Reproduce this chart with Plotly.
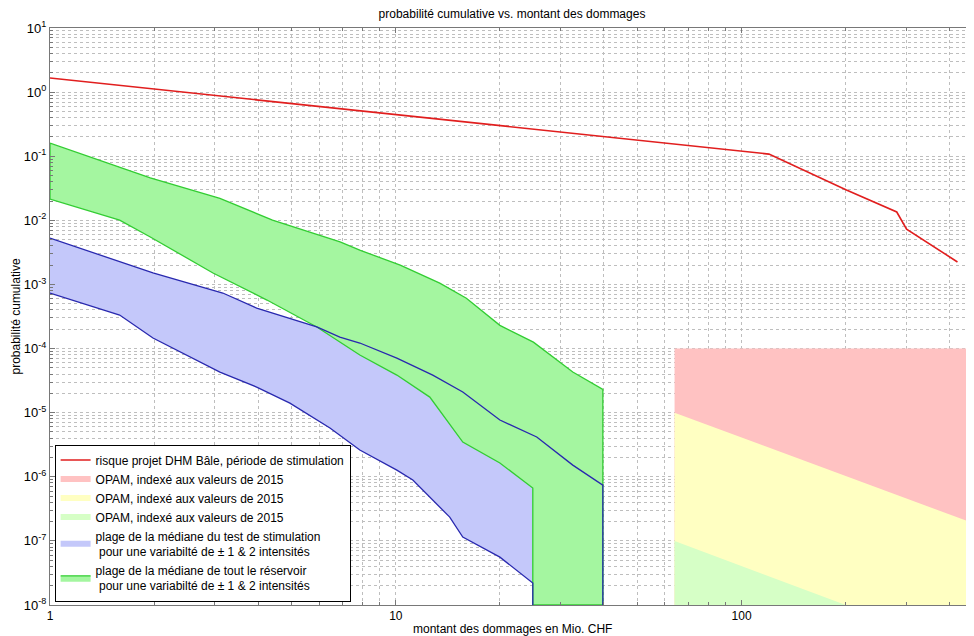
import plotly.graph_objects as go
import math

# ---------------- data ----------------
# red line: risk DHM Bâle, stimulation period
red_x = [1, 120, 201, 281, 300, 421]
red_y = [1.66, 0.108, 0.0297, 0.0135, 0.0073, 0.00224]

# green band (whole reservoir)
green_up_x = [1, 1.3, 1.95, 3.1, 4.4, 6.9, 7.9, 10.3, 13.4, 16.0, 20.0, 25.0, 32.5, 39.7]
green_up_y = [0.16, 0.097, 0.046, 0.022, 0.0101, 0.0046, 0.0034, 0.0020, 0.00105,
              6.1e-4, 2.3e-4, 1.26e-4, 4.3e-5, 2.3e-5]
green_lo_x = [1, 1.59, 1.95, 2.96, 4.24, 5.91, 7.87, 10.07, 12.54, 15.62, 20.0, 24.9]
green_lo_y = [0.0215, 0.0101, 0.0055, 0.00151, 5.71e-4, 2.17e-4, 7.93e-5, 3.86e-5,
              1.75e-5, 3.48e-6, 1.64e-6, 6.66e-7]

# blue band (stimulation test)
blue_up_x = [1, 1.985, 3.16, 3.96, 5.91, 6.89, 7.87, 10.07, 12.79, 15.62, 20.0, 25.56, 32.5, 39.7]
blue_up_y = [5.3e-3, 1.51e-3, 7.35e-4, 4.28e-4, 2.17e-4, 1.51e-4, 1.22e-4, 7.11e-5,
             3.86e-5, 2.10e-5, 7.67e-6, 4.17e-6, 1.52e-6, 7.4e-7]
blue_lo_x = [1, 1.59, 1.985, 3.10, 3.96, 4.94, 6.45, 7.87, 10.07, 11.2, 14.32, 15.62, 20.0, 24.9]
blue_lo_y = [7.35e-4, 3.33e-4, 1.46e-4, 4.3e-5, 2.51e-5, 1.41e-5, 5.75e-6, 2.61e-6,
             1.27e-6, 8.89e-7, 2.35e-7, 1.15e-7, 5.58e-8, 2.2e-8]

# OPAM zones
opam_left = 64
opam_right = 500
opam_top = 1e-4
y_floor = 1e-8
ry_x = [64, 500]          # red / yellow boundary
ry_y = [1e-5, 1.65e-7]
yg_x = [64, 200]          # yellow / green boundary
yg_y = [1e-7, 1e-8]

x_major = [1, 10, 100]
x_major_text = ["1", "10", "100"]
y_exps = list(range(-8, 2))

title_txt = "probabilité cumulative vs. montant des dommages"
xlabel = "montant des dommages en Mio. CHF"
ylabel = "probabilité cumulative"
leg_red = "risque projet DHM Bâle, période de stimulation"
leg_opam = "OPAM, indexé aux valeurs de 2015"
leg_blue = "plage de la médiane du test de stimulation<br>\u00a0pour une variabilté de ± 1 & 2 intensités"
leg_green = "plage de la médiane de tout le réservoir<br>\u00a0pour une variabilté de ± 1 & 2 intensités"

# ---------------- colours ----------------
c_red_line = "rgb(225,30,30)"
c_opam_red = "rgb(255,194,194)"
c_opam_yel = "rgb(255,255,194)"
c_opam_grn = "rgb(214,255,198)"
c_blue_fill = "rgb(196,200,250)"
c_blue_line = "rgb(40,40,175)"
c_green_fill = "rgb(164,246,160)"
c_green_line = "rgb(50,205,50)"

fig = go.Figure()

# OPAM zones
fig.add_trace(go.Scatter(
    x=[opam_left, opam_right, opam_right, opam_left],
    y=[opam_top, opam_top, y_floor, y_floor],
    fill="toself", fillcolor=c_opam_red, mode="none",
    name=leg_opam, legendrank=2, hoverinfo="skip"))
fig.add_trace(go.Scatter(
    x=ry_x + [opam_right, opam_left],
    y=ry_y + [y_floor, y_floor],
    fill="toself", fillcolor=c_opam_yel, mode="none",
    name=leg_opam, legendrank=3, hoverinfo="skip"))
fig.add_trace(go.Scatter(
    x=yg_x + [opam_left],
    y=yg_y + [y_floor],
    fill="toself", fillcolor=c_opam_grn, mode="none",
    name=leg_opam, legendrank=4, hoverinfo="skip"))

# blue band fill
bx = blue_up_x + [blue_up_x[-1], blue_lo_x[-1]] + blue_lo_x[::-1]
by = blue_up_y + [y_floor, y_floor] + blue_lo_y[::-1]
fig.add_trace(go.Scatter(
    x=bx, y=by, fill="toself", fillcolor=c_blue_fill, mode="none",
    name=leg_blue, legendrank=5, hoverinfo="skip"))

# green band fill with outline
gx = green_up_x + [green_up_x[-1], green_lo_x[-1]] + green_lo_x[::-1] + [green_up_x[0]]
gy = green_up_y + [y_floor, y_floor] + green_lo_y[::-1] + [green_up_y[0]]
fig.add_trace(go.Scatter(
    x=gx, y=gy, fill="toself", fillcolor=c_green_fill, mode="lines",
    line=dict(color=c_green_line, width=1.3),
    name=leg_green, legendrank=6, hoverinfo="skip"))

# blue lines
fig.add_trace(go.Scatter(
    x=blue_up_x + [blue_up_x[-1]], y=blue_up_y + [y_floor], mode="lines",
    line=dict(color=c_blue_line, width=1.3), showlegend=False, hoverinfo="skip"))
fig.add_trace(go.Scatter(
    x=blue_lo_x + [blue_lo_x[-1]], y=blue_lo_y + [y_floor], mode="lines",
    line=dict(color=c_blue_line, width=1.3), showlegend=False, hoverinfo="skip"))

# red line
fig.add_trace(go.Scatter(
    x=red_x, y=red_y, mode="lines", line=dict(color=c_red_line, width=1.6),
    name=leg_red, legendrank=1))

grid_c = "rgb(190,190,190)"
axis_c = "rgb(120,120,120)"
font_main = "Liberation Sans, Arial, sans-serif"

x_minor = [m * 10 ** k for k in range(0, 3) for m in range(2, 10)]
y_minor = [m * 10.0 ** k for k in range(-8, 1) for m in range(2, 10)]

# the page body has an 8 px default margin: size the figure to fit the window
W, H = 966, 628

fig.update_layout(
    width=W, height=H,
    margin=dict(l=42, r=0, t=20, b=31, autoexpand=False),
    paper_bgcolor="white", plot_bgcolor="white",
    font=dict(family=font_main, size=12, color="black"),
    title=dict(text=title_txt, x=0.5, xanchor="center", xref="paper",
               y=(H - 6) / H, yref="container", yanchor="middle",
               font=dict(size=12)),
    showlegend=True,
    legend=dict(x=0.005, y=0.006, xanchor="left", yanchor="bottom",
                bgcolor="white", bordercolor="black", borderwidth=1,
                font=dict(size=12), tracegroupgap=0, itemwidth=30),
    xaxis=dict(
        type="log", range=[0, math.log10(470)], automargin=False,
        tickvals=x_major, ticktext=x_major_text,
        ticks="inside", ticklen=5, tickcolor=axis_c,
        showline=True, linecolor=axis_c, linewidth=1, mirror="allticks",
        showgrid=True, gridcolor=grid_c, griddash="dot", gridwidth=1,
        zeroline=False, tickfont=dict(size=12),
        minor=dict(tickvals=x_minor, ticks="inside", ticklen=3, tickcolor=axis_c,
                   showgrid=True, gridcolor=grid_c, griddash="dot", gridwidth=1),
    ),
    yaxis=dict(
        type="log", range=[-8, 1], automargin=False,
        tickvals=[10.0 ** e for e in y_exps],
        ticktext=["10<sup>%d</sup>" % e for e in y_exps],
        ticks="inside", ticklen=5, tickcolor=axis_c,
        showline=True, linecolor=axis_c, linewidth=1, mirror=False,
        showgrid=True, gridcolor=grid_c, griddash="dot", gridwidth=1,
        zeroline=False,
        tickfont=dict(size=13),
        minor=dict(tickvals=y_minor, ticks="inside", ticklen=3, tickcolor=axis_c,
                   showgrid=True, gridcolor=grid_c, griddash="dot", gridwidth=1),
    ),
    annotations=[
        dict(text=xlabel, xref="paper", yref="paper", x=0.5, y=0,
             xanchor="center", yanchor="top", yshift=-15, showarrow=False,
             font=dict(size=12)),
        dict(text=ylabel, xref="paper", yref="paper", x=0, y=0.5,
             xanchor="center", yanchor="middle", xshift=-35, textangle=-90,
             showarrow=False, font=dict(size=12)),
    ],
)

fig.write_html("out.html")
